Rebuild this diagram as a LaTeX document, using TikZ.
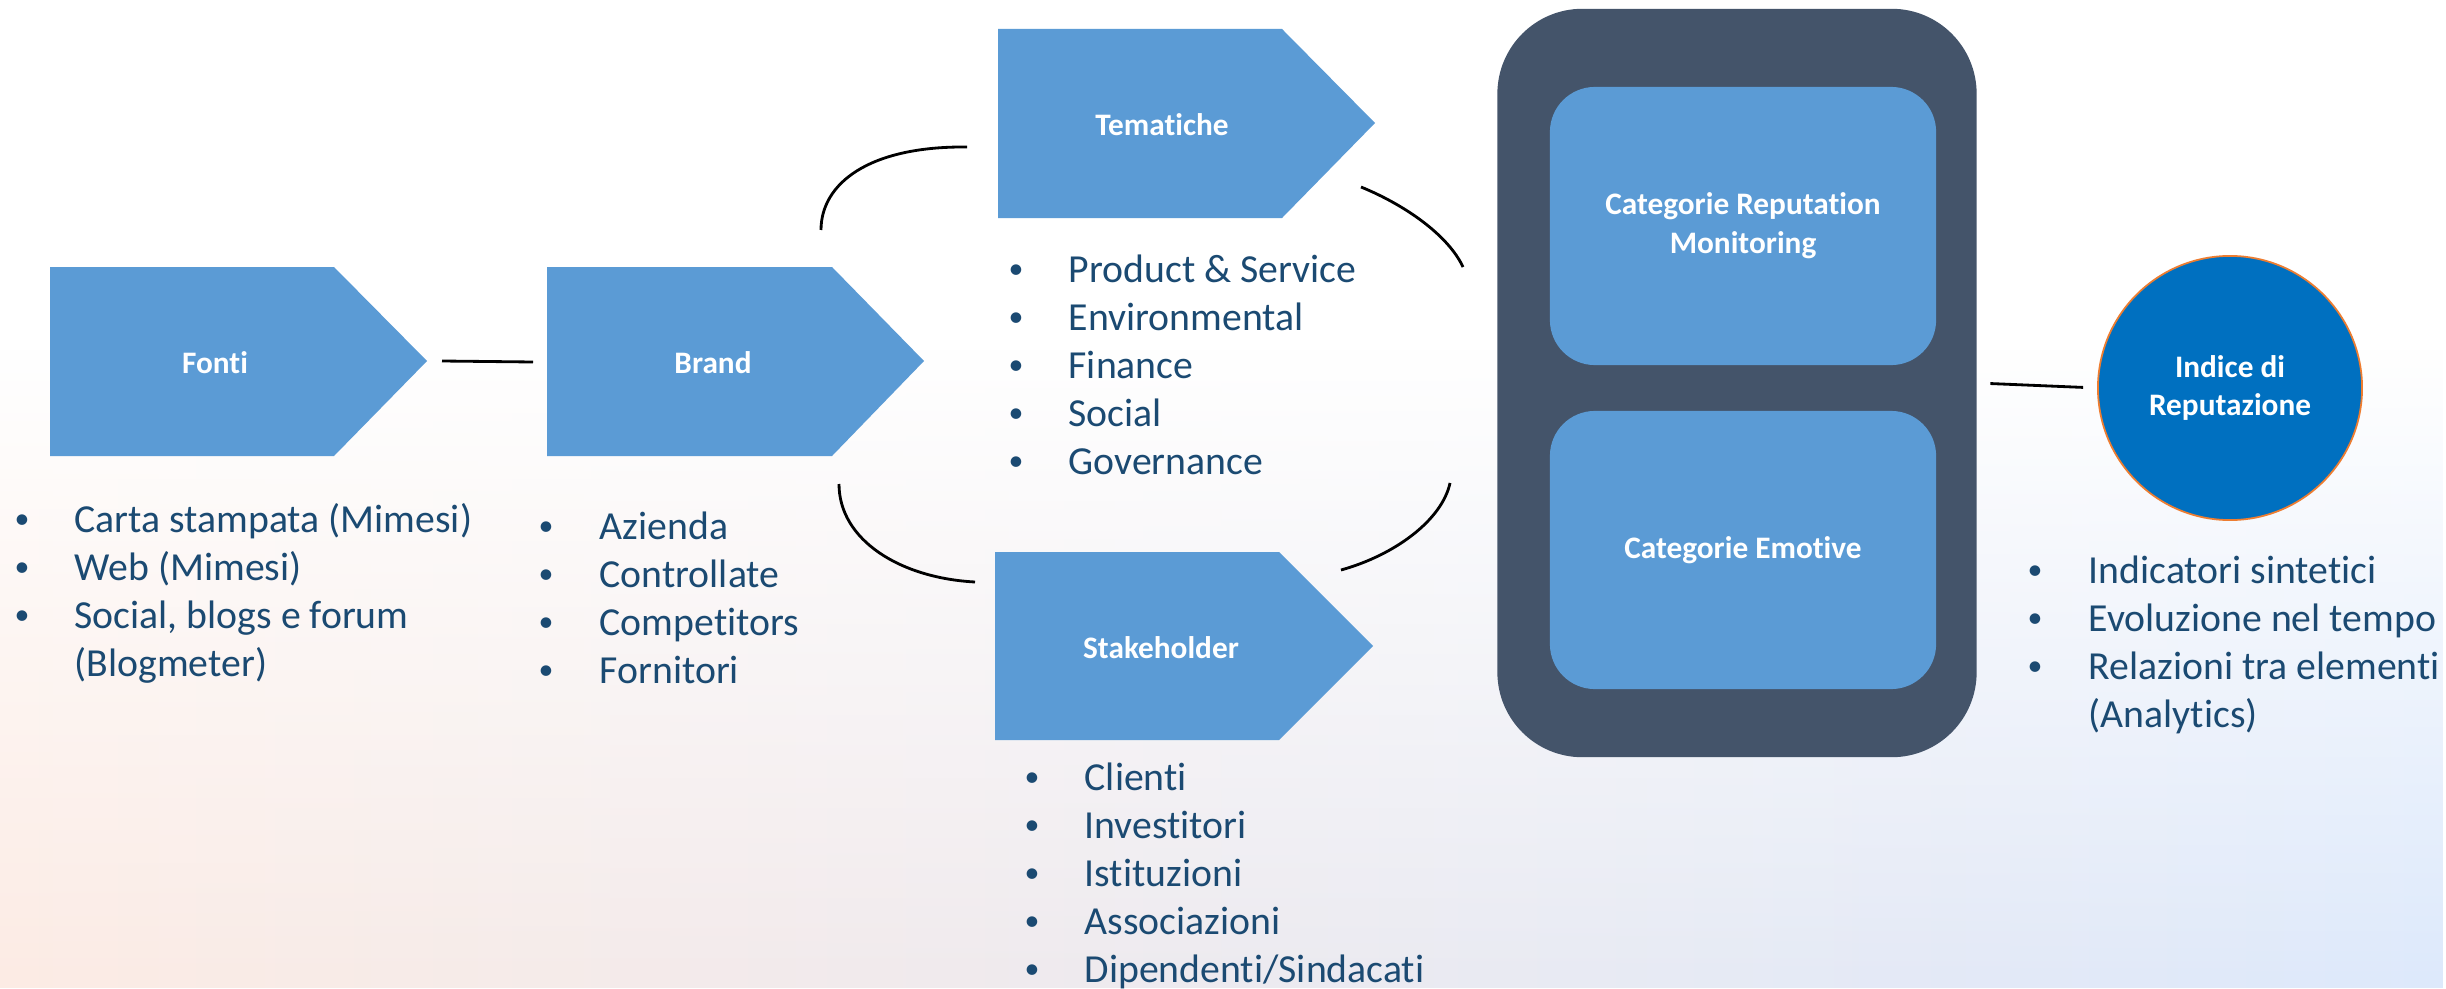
\documentclass[tikz,border=0pt]{standalone}
\usepackage{fontspec}
\setmainfont{Carlito}[Ligatures={NoCommon}, RawFeature={-calt}]
\usetikzlibrary{fadings}

\definecolor{boxblue}{HTML}{5B9BD5}
\definecolor{panelgray}{HTML}{44546A}
\definecolor{indexblue}{HTML}{0070C0}
\definecolor{ringorange}{HTML}{ED7D31}
\definecolor{listblue}{HTML}{1B4A72}
\definecolor{bgpeach}{HTML}{FCEBE4}
\definecolor{bglav}{HTML}{F1E9F7}
\definecolor{bgblue}{HTML}{DDE9FB}

\newcommand{\dotmark}{\raisebox{0.9pt}{\fontsize{8.5}{8.5}\selectfont\textbullet}}

\tikzset{
  chevron/.style={fill=boxblue},
  boxlabel/.style={text=white, font=\bfseries\fontsize{8.9}{11}\selectfont, align=center},
  itemlist/.style={text=listblue, font=\fontsize{11.3}{13.66}\selectfont, anchor=base west, inner sep=0pt},
  link/.style={black, line width=0.8pt},
  catbox/.style={fill=boxblue, rounded corners=0.45cm, minimum width=3.86cm, minimum height=2.78cm, boxlabel}
}

\begin{document}
\begin{tikzpicture}[x=0.01cm, y=-0.01cm]
            \useasboundingbox (0,0) rectangle (2446,988);
            \fill[white] (0,0) rectangle (2446,988);
            \shade[left color=bgpeach, middle color=bglav, right color=bgblue, path fading=north] (0,350) rectangle (2446,988);

            % chevrons
            \fill[chevron] (50,267) -- (334,267) -- (427,361) -- (334,456) -- (50,456) -- cycle;
            \fill[chevron] (547,267) -- (832,267) -- (924,361) -- (832,456) -- (547,456) -- cycle;
            \fill[chevron] (998,29) -- (1282,29) -- (1375,123) -- (1282,218) -- (998,218) -- cycle;
            \fill[chevron] (995,552) -- (1279,552) -- (1373,646) -- (1279,740) -- (995,740) -- cycle;
            \node[boxlabel] (fonti) at (215,363) {Fonti};
            \node[boxlabel] (brand) at (713,363) {Brand};
            \node[boxlabel] (tematiche) at (1162,125) {Tematiche};
            \node[boxlabel] (stakeholder) at (1161,648) {Stakeholder};

            \node[fill=panelgray, rounded corners=0.85cm, minimum width=4.79cm, minimum height=7.48cm] (panel) at (1737,383) {};
            \node[catbox] (reputation) at (1743,226) {Categorie Reputation\\Monitoring};
            \node[catbox] (emotive) at (1743,550) {Categorie Emotive};
            \node[circle, fill=indexblue, draw=ringorange, line width=0.5pt, minimum size=2.64cm, boxlabel] (indice) at (2230,388) {Indice di\\Reputazione};

            % connectors
            \coordinate (fonti-out) at (442,361);
            \coordinate (brand-in) at (533,362);
            \draw[link] (fonti-out) -- (brand-in);
            \draw[link, shorten <=0.13cm, shorten >=0.14cm] (panel.east) -- (indice.west);
            \coordinate (brand-up) at (821,230);
            \coordinate (tematiche-in) at (967,147);
            \draw[link] (brand-up) .. controls (821,184) and (868,146) .. (tematiche-in);
            \coordinate (tematiche-out) at (1361,187);
            \coordinate (panel-up) at (1463,267);
            \draw[link] (tematiche-out) .. controls (1405,205) and (1448,235) .. (panel-up);
            \coordinate (brand-down) at (839,484);
            \coordinate (stakeholder-in) at (975,582);
            \draw[link] (brand-down) .. controls (839,540) and (900,578) .. (stakeholder-in);
            \coordinate (stakeholder-out) at (1341,570);
            \coordinate (panel-down) at (1450,483);
            \draw[link] (stakeholder-out) .. controls (1395,555) and (1442,520) .. (panel-down);

            % lists
            \node[itemlist] (fonti-list) at (14,532) {\begin{tabular}[t]{@{}p{0.6cm}@{}l@{}}
              \dotmark & Carta stampata (Mimesi)\\
              \dotmark & Web (Mimesi)\\
              \dotmark & Social, blogs e forum\\
                       & (Blogmeter)
            \end{tabular}};
            \node[itemlist] (brand-list) at (538,539) {\begin{tabular}[t]{@{}p{0.61cm}@{}l@{}}
              \dotmark & Azienda\\
              \dotmark & Controllate\\
              \dotmark & Competitors\\
              \dotmark & Fornitori
            \end{tabular}};
            \node[itemlist] (tematiche-list) at (1008,282) {\begin{tabular}[t]{@{}p{0.6cm}@{}l@{}}
              \dotmark & Product \& Service\\
              \dotmark & Environmental\\
              \dotmark & Finance\\
              \dotmark & Social\\
              \dotmark & Governance
            \end{tabular}};
            \node[itemlist] (stakeholder-list) at (1024,790) {\begin{tabular}[t]{@{}p{0.6cm}@{}l@{}}
              \dotmark & Clienti\\
              \dotmark & Investitori\\
              \dotmark & Istituzioni\\
              \dotmark & Associazioni\\
              \dotmark & Dipendenti/Sindacati
            \end{tabular}};
            \node[itemlist] (indice-list) at (2027,583) {\begin{tabular}[t]{@{}p{0.61cm}@{}l@{}}
              \dotmark & Indicatori sintetici\\
              \dotmark & Evoluzione nel tempo\\
              \dotmark & Relazioni tra elementi\\
                       & (Analytics)
            \end{tabular}};
        \end{tikzpicture}
\end{document}
